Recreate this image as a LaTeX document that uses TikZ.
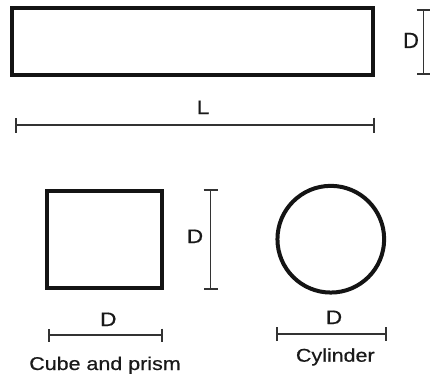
\documentclass[tikz,border=0pt]{standalone}
\usepackage{fontspec}
\setmainfont{Liberation Sans}[FakeStretch=1.16,FakeBold=0.6]
\newfontfamily\narrowsans{Liberation Sans}[FakeBold=0.6]
\usetikzlibrary{arrows.meta}
\begin{document}
\begin{tikzpicture}[x=1pt,y=-1pt,
  shapebox/.style={draw=black!92,line width=4pt,inner sep=0pt,fill=none},
  dimline/.style={draw=black!80,line width=1.5pt,{Bar[width=#1,line width=2pt]}-{Bar[width=#1,line width=2pt]}},
  dimline/.default=14pt,
  lbl/.style={font=\fontsize{19.5}{22}\selectfont,text=black!90,inner sep=0pt,anchor=base},
  captxt/.style={font=\fontsize{18.5}{20}\selectfont,text=black!90,inner sep=0pt,anchor=base}]
\useasboundingbox (0,0) rectangle (430,377);
% long bar
\node[shapebox,minimum width=361.5pt,minimum height=67.5pt] (bar) at (192.25,41.75) {};
\coordinate (dt) at (423.5,9.5);
\coordinate (db) at (423.5,75.5);
\draw[dimline=14pt] (dt) -- (db);
\node[lbl,font=\narrowsans\fontsize{22}{24}\selectfont] (dlab) at (411,48) {D};
\coordinate (ll) at (15,125);
\coordinate (lr) at (375,125);
\draw[dimline=15pt] (ll) -- (lr);
\node[lbl] (llab) at (203,114) {L};
% square
\node[shapebox,minimum width=115.3pt,minimum height=97.8pt] (sq) at (104.35,239.4) {};
\coordinate (st) at (210.7,189.3);
\coordinate (sb) at (210.7,290);
\draw[dimline=14pt] (st) -- (sb);
\node[lbl] (sdlab) at (195,243) {D};
\coordinate (sl) at (48.3,335);
\coordinate (sr) at (162.7,335);
\draw[dimline=13pt] (sl) -- (sr);
\node[lbl] (shlab) at (108.3,326) {D};
\node[captxt] (sqcap) at (105,370) {Cube and prism};
% circle
\node[draw=black!92,line width=4pt,circle,minimum size=106.7pt,inner sep=0pt] (cyl) at (330.8,239.2) {};
\coordinate (cl) at (276,334);
\coordinate (cr) at (386.7,334);
\draw[dimline=14pt] (cl) -- (cr);
\node[lbl] (chlab) at (334,324) {D};
\node[captxt] (cycap) at (335.3,361.7) {Cylinder};
\end{tikzpicture}
\end{document}
